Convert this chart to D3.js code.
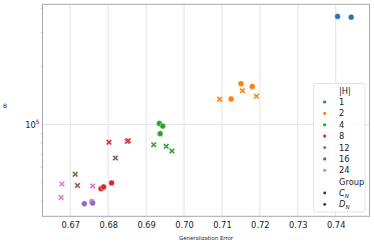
<!DOCTYPE html>
<html>
<head>
<meta charset="utf-8">
<script src="https://cdn.jsdelivr.net/npm/d3@7"></script>
<style>
  body { margin: 0; background: #fff; }
  svg { font-family: "DejaVu Sans", sans-serif; }
</style>
</head>
<body>
<svg id="chart" width="374" height="244"></svg>
<script>
// legend levels of |H| and their colours
const hLevels = [1, 2, 4, 8, 12, 16, 24];
const hColors = ["#1f77b4", "#ff7f0e", "#2ca02c", "#d62728", "#9467bd", "#8c564b", "#e377c2"];
const groupNames = ["C", "D"];

// one entry per point
const hValues  = [1, 1, 2, 2, 2, 2, 2, 2, 4, 4, 4, 4, 4, 4, 8, 8, 8, 8, 8, 8, 12, 12, 12, 16, 16, 16, 24, 24, 24];
const groups   = ["C", "C", "C", "C", "C", "D", "D", "D", "C", "C", "C", "D", "D", "D",
                  "C", "C", "C", "D", "D", "D", "C", "C", "C", "D", "D", "D", "D", "D", "D"];
const genError = [0.7405, 0.7441,
                  0.7150, 0.7180, 0.7124, 0.7094, 0.7154, 0.7191,
                  0.6935, 0.6944, 0.6937, 0.6920, 0.6953, 0.6968,
                  0.6781, 0.6788, 0.6809, 0.6802, 0.6850, 0.6853,
                  0.6737, 0.6757, 0.6759,
                  0.6713, 0.6719, 0.6819,
                  0.6678, 0.6676, 0.6759];
const bValues  = [363000, 360000,
                  162700, 157400, 135600, 135200, 149700, 140000,
                  101200, 98200, 89600, 78600, 77100, 72900,
                  46500, 47450, 49800, 80900, 81800, 82400,
                  38870, 39800, 39200,
                  55200, 48300, 67100,
                  49200, 41850, 48000];
const xTicks = [0.67, 0.68, 0.69, 0.70, 0.71, 0.72, 0.73, 0.74];

const points = hValues.map((h, i) => ({h: h, group: groups[i], err: genError[i], b: bValues[i]}));

const margin = {top: 4.3, right: 4.5, bottom: 27.7, left: 42.5};
const width = 374, height = 244;
const svg = d3.select("#chart");

const x = d3.scaleLinear().domain([0.66267, 0.74892]).range([margin.left, width - margin.right]);
const y = d3.scaleLog().domain([33450, 419600]).range([height - margin.bottom, margin.top]);
const color = d3.scaleOrdinal().domain(hLevels).range(hColors);

// grid lines
svg.append("g").selectAll("line").data(xTicks).join("line")
    .attr("x1", d => x(d)).attr("x2", d => x(d))
    .attr("y1", margin.top).attr("y2", height - margin.bottom)
    .attr("stroke", "#e4e4e4").attr("stroke-width", 1);
svg.append("line")
    .attr("x1", margin.left).attr("x2", width - margin.right)
    .attr("y1", y(1e5)).attr("y2", y(1e5))
    .attr("stroke", "#e4e4e4").attr("stroke-width", 1);

// spines
svg.append("rect")
    .attr("x", margin.left).attr("y", margin.top)
    .attr("width", width - margin.right - margin.left)
    .attr("height", height - margin.bottom - margin.top)
    .attr("fill", "none").attr("stroke", "#a8a8a8").attr("stroke-width", 1);

// x axis labels
const xAxis = d3.axisBottom(x).tickValues(xTicks).tickFormat(d3.format(".2f")).tickSize(0).tickPadding(6);
svg.append("g")
    .attr("transform", "translate(0," + (height - margin.bottom) + ")")
    .call(xAxis)
    .call(g => g.select(".domain").remove())
    .selectAll("text").attr("font-size", 8.3).attr("fill", "#222").attr("font-family", "DejaVu Sans");

// y minor ticks
const minor = [];
[1e4, 1e5].forEach(p => { for (let k = 2; k <= 9; k++) { const v = k * p; if (v > 33450 && v < 419600) minor.push(v); } });
svg.append("g").selectAll("line").data(minor).join("line")
    .attr("x1", margin.left - 1.5).attr("x2", margin.left + 0.5)
    .attr("y1", d => y(d)).attr("y2", d => y(d))
    .attr("stroke", "#a8a8a8").attr("stroke-width", 0.8);

// y major label 10^5
const yl = svg.append("text")
    .attr("x", margin.left - 3).attr("y", y(1e5) + 3)
    .attr("text-anchor", "end").attr("font-size", 8.3).attr("fill", "#222");
yl.append("tspan").text("10");
yl.append("tspan").attr("dy", -3.5).attr("font-size", 5.8).text("5");

// axis titles
svg.append("text")
    .attr("x", (margin.left + width - margin.right) / 2).attr("y", 240)
    .attr("text-anchor", "middle").attr("font-size", 5.4).attr("fill", "#222")
    .text("Generalization Error");
svg.append("text")
    .attr("x", 5).attr("y", 108)
    .attr("text-anchor", "middle").attr("font-size", 6).attr("fill", "#222")
    .text("B");

// X marker shape
function xPath(s, t) {
    const p = [[-s, -s + t], [-s + t, -s], [0, -t], [s - t, -s], [s, -s + t], [t, 0],
               [s, s - t], [s - t, s], [0, t], [-s + t, s], [-s, s - t], [-t, 0]];
    return "M" + p.map(q => q.join(",")).join("L") + "Z";
}

// points
const marks = svg.append("g");
points.forEach(d => {
    if (d.group === "C") {
        marks.append("circle")
            .attr("cx", x(d.err)).attr("cy", y(d.b)).attr("r", 2.9)
            .attr("fill", color(d.h)).attr("stroke", "#fff").attr("stroke-width", 0.4);
    } else {
        marks.append("path")
            .attr("transform", "translate(" + x(d.err) + "," + y(d.b) + ")")
            .attr("d", xPath(3, 1.3))
            .attr("fill", color(d.h)).attr("stroke", "#fff").attr("stroke-width", 0.4);
    }
});

// legend
const legend = svg.append("g");
legend.append("rect")
    .attr("x", 313.5).attr("y", 83.5).attr("width", 51.5).attr("height", 128.5)
    .attr("rx", 2).attr("fill", "#fff").attr("fill-opacity", 0.85)
    .attr("stroke", "#dcdcdc").attr("stroke-width", 0.8);

const rowY = i => 90.6 + i * 11.38;
legend.append("text").attr("x", 339).attr("y", rowY(0) + 3)
    .attr("font-size", 8.3).attr("fill", "#222").text("|H|");
hLevels.forEach((h, i) => {
    legend.append("circle").attr("cx", 324.7).attr("cy", rowY(i + 1)).attr("r", 1.6).attr("fill", color(h));
    legend.append("text").attr("x", 339).attr("y", rowY(i + 1) + 3)
        .attr("font-size", 8.3).attr("fill", "#222").text(h);
});
legend.append("text").attr("x", 339).attr("y", rowY(8) + 3)
    .attr("font-size", 8.3).attr("fill", "#222").text("Group");
groupNames.forEach((g, i) => {
    legend.append("circle").attr("cx", 324.7).attr("cy", rowY(9 + i)).attr("r", 1.4).attr("fill", "#333");
    const t = legend.append("text").attr("x", 339).attr("y", rowY(9 + i) + 3)
        .attr("font-size", 8.3).attr("fill", "#222");
    t.append("tspan").attr("font-style", "italic").text(g);
    t.append("tspan").attr("font-style", "italic").attr("font-size", 5.6).attr("dy", 1.8).text("N");
});
</script>
</body>
</html>
